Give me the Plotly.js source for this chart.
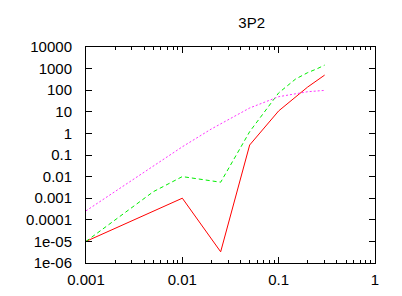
<!DOCTYPE html>
<html>
<head>
<meta charset="utf-8">
<script src="https://cdn.plot.ly/plotly-3.0.1.min.js"></script>
<style>html,body{margin:0;padding:0;background:#fff;}#chart{width:402px;height:296px;}</style>
</head>
<body>
<div id="chart"></div>
<script>
// Data
const redX = [0.001, 0.01, 0.025, 0.05, 0.1, 0.2, 0.3];
const redY = [1e-5, 0.001, 3.3e-6, 0.29, 11, 140, 500];

const greenX = [0.001, 0.005, 0.01, 0.025, 0.05, 0.075, 0.1, 0.15, 0.2, 0.25, 0.3];
const greenY = [1e-5, 0.002, 0.01, 0.0055, 1.2, 14, 75, 330, 650, 980, 1450];

const magentaX = [0.001, 0.01, 0.02, 0.05, 0.1, 0.2, 0.3];
const magentaY = [2.6e-4, 0.24, 1.6, 15, 50, 85, 98];

const xTickVals = [0.001, 0.01, 0.1, 1];
const xTickText = ["0.001", "0.01", "0.1", "1"];
const yTickVals = [1e-6, 1e-5, 1e-4, 1e-3, 0.01, 0.1, 1, 10, 100, 1000, 10000];
const yTickText = ["1e-06", "1e-05", "0.0001", "0.001", "0.01", "0.1", "1", "10", "100", "1000", "10000"];

const font = "Liberation Sans, Arial, Helvetica, sans-serif";

const traces = [
  {x: redX, y: redY, mode: "lines", line: {color: "#ff0000", width: 1}, hoverinfo: "skip"},
  {x: greenX, y: greenY, mode: "lines", line: {color: "#00ee00", width: 1, dash: "4px,3px"}, hoverinfo: "skip"},
  {x: magentaX, y: magentaY, mode: "lines", line: {color: "#ff33ff", width: 1, dash: "2px,2px"}, hoverinfo: "skip"}
];

const layout = {
  width: 402, height: 296,
  margin: {l: 86, r: 27, t: 47, b: 33, pad: 0},
  paper_bgcolor: "#fff", plot_bgcolor: "#fff",
  showlegend: false,
  font: {family: font, size: 15, color: "#000"},
  title: {text: "3P2", font: {family: font, size: 15, color: "#000"}, x: 230.5/402, xanchor: "center", xref: "paper", y: 1 - 22.5/296, yref: "container", yanchor: "middle"},
  xaxis: {
    type: "log", range: [-3, 0], showgrid: false, zeroline: false,
    showline: true, linecolor: "#000", linewidth: 1, mirror: "ticks",
    ticks: "inside", ticklen: 6, tickcolor: "#000", tickwidth: 1,
    tickvals: xTickVals, ticktext: xTickText,
    minor: {ticks: "inside", ticklen: 3, tickcolor: "#000", tickwidth: 1, dtick: "D1", showgrid: false},
    tickfont: {family: font, size: 15, color: "#000"}, ticklabelstandoff: 3
  },
  yaxis: {
    type: "log", range: [-6, 4], showgrid: false, zeroline: false,
    showline: true, linecolor: "#000", linewidth: 1, mirror: "ticks",
    ticks: "inside", ticklen: 6, tickcolor: "#000", tickwidth: 1,
    tickvals: yTickVals, ticktext: yTickText,
    tickfont: {family: font, size: 15, color: "#000"}, ticklabelstandoff: 10
  }
};

Plotly.newPlot("chart", traces, layout, {staticPlot: true, displayModeBar: false});
</script>
</body>
</html>
